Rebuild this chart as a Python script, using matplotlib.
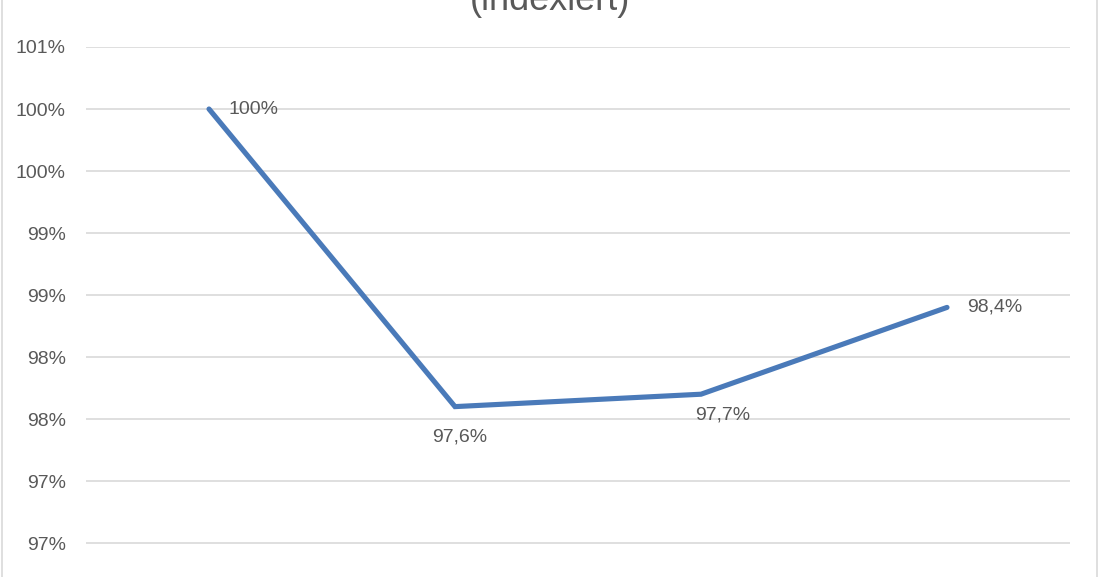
"""Indexed development line chart (Excel style)."""
import math
import matplotlib.pyplot as plt
from matplotlib.patches import Rectangle
from matplotlib.ticker import FuncFormatter, MultipleLocator

categories = ['1', '2', '3', '4']
values = [100.0, 97.6, 97.7, 98.4]
value_labels = ['100%', '97,6%', '97,7%', '98,4%']
title = '(indexiert)'

plt.rcParams['font.family'] = ['Liberation Sans', 'DejaVu Sans']
text_color = '#595959'
line_color = '#4a7ab9'

W, H = 1100, 577
fig = plt.figure(figsize=(W / 100, H / 100), dpi=100)
ax = fig.add_axes([86 / W, 0, (1070 - 86) / W, 1 - 47 / H])

x = list(range(len(categories)))
ax.plot(x, values, color=line_color, linewidth=3.7, solid_capstyle='round',
        solid_joinstyle='miter', zorder=3)

ax.set_xlim(-0.5, len(categories) - 0.5)
ax.set_ylim(96.226, 100.5)
ax.yaxis.set_major_locator(MultipleLocator(0.5))
ax.yaxis.set_major_formatter(FuncFormatter(lambda v, p: f'{math.floor(v + 0.5 + 1e-9):.0f}%'))
ax.set_xticks([])
ax.tick_params(axis='y', length=0, pad=14.5, labelsize=14, labelcolor=text_color)
ax.grid(axis='y', color='#d9d9d9', linewidth=1.2)
ax.set_axisbelow(True)
for s in ax.spines.values():
    s.set_visible(False)

# data labels (offsets in pixels, as placed in the original)
offsets = [(20, 0, 'left', 'center'), (5, -30, 'center', 'center'),
           (22, -21, 'center', 'center'), (20, 0, 'left', 'center')]
for xi, v, lab, (dx, dy, ha, va) in zip(x, values, value_labels, offsets):
    ax.annotate(lab, (xi, v), xytext=(dx, dy), textcoords='offset pixels',
                ha=ha, va=va, fontsize=14, color=text_color)

fig.text(0.5, 1 - 18 / H, title, ha='center', va='bottom', fontsize=26, color=text_color)
fig.patches.append(Rectangle((2 / W, -0.01), (W - 5) / W, 1.02, transform=fig.transFigure,
                             fill=False, edgecolor='#d9d9d9', linewidth=1.2))

plt.savefig('out.png', dpi=100)
plt.close()
